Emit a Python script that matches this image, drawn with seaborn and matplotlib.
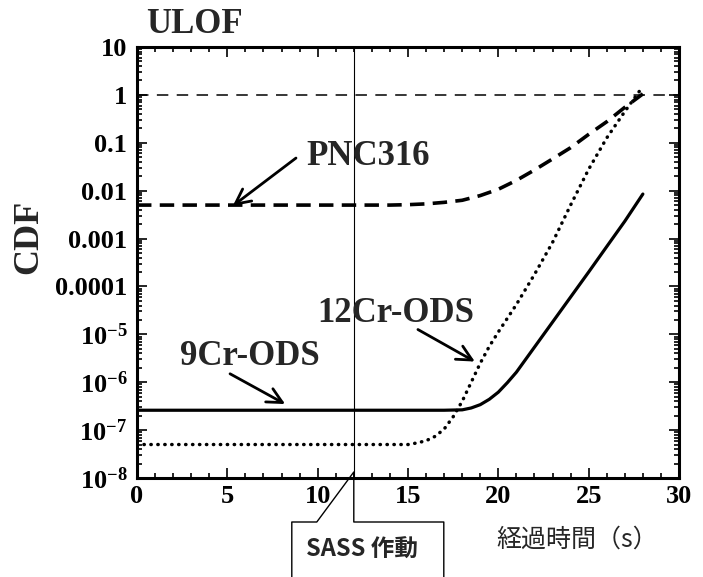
import matplotlib
matplotlib.use("Agg")
import matplotlib.pyplot as plt
import matplotlib.ticker as mticker
from matplotlib.lines import Line2D
import seaborn as sns
import pandas as pd

# Values (time in s, cumulative damage fraction)
pnc_time = [0, 5, 10, 14, 15, 16, 17, 18, 19, 20, 21, 22, 23, 24, 25, 26, 27, 28]
pnc_cdf = [5e-3, 5e-3, 5e-3, 5e-3, 5.1e-3, 5.3e-3, 5.7e-3, 6.3e-3, 7.9e-3, 1.07e-2,
           1.64e-2, 2.7e-2, 4.6e-2, 7.9e-2, 0.15, 0.275, 0.55, 1.05]

ods12_time = [0, 5, 10, 14, 15, 15.5, 16, 16.5, 17, 17.5, 18, 18.5, 19, 19.5, 20, 21,
              22, 23, 24, 25, 26, 27, 28]
ods12_cdf = [5e-8, 5e-8, 5e-8, 5e-8, 5e-8, 5.4e-8, 6.0e-8, 7.4e-8, 1.05e-7, 1.9e-7,
             4.0e-7, 1.0e-6, 2.5e-6, 5.6e-6, 1.12e-5, 4.2e-5, 1.78e-4, 8.3e-4,
             5.0e-3, 2.8e-2, 0.126, 0.45, 1.5]

ods9_time = [0, 5, 10, 15, 17, 18, 18.5, 19, 19.5, 20, 20.5, 21, 22, 23, 24, 25, 26, 27, 28]
ods9_cdf = [2.6e-7, 2.6e-7, 2.6e-7, 2.6e-7, 2.6e-7, 2.65e-7, 2.9e-7, 3.4e-7, 4.4e-7,
            6.2e-7, 9.8e-7, 1.62e-6, 5.4e-6, 1.8e-5, 6.0e-5, 2.0e-4, 6.8e-4,
            2.3e-3, 8.5e-3]

limit_cdf = 1.0
sass_time = 12

y_ticks = [1e1, 1, 1e-1, 1e-2, 1e-3, 1e-4, 1e-5, 1e-6, 1e-7, 1e-8]
y_tick_labels = ["10", "1", "0.1", "0.01", "0.001", "0.0001",
                 r"$10^{-5}$", r"$10^{-6}$", r"$10^{-7}$", r"$10^{-8}$"]
x_ticks = [0, 5, 10, 15, 20, 25, 30]

df_pnc = pd.DataFrame({"time": pnc_time, "cdf": pnc_cdf})
df_12 = pd.DataFrame({"time": ods12_time, "cdf": ods12_cdf})
df_9 = pd.DataFrame({"time": ods9_time, "cdf": ods9_cdf})

sns.set_theme(style="ticks")
plt.rcParams["font.family"] = ["Liberation Serif", "DejaVu Serif"]
plt.rcParams["font.weight"] = "bold"
plt.rcParams["mathtext.fontset"] = "custom"
plt.rcParams["mathtext.rm"] = "Liberation Serif:bold"
plt.rcParams["mathtext.it"] = "Liberation Serif:bold"
plt.rcParams["mathtext.bf"] = "Liberation Serif:bold"

W, H = 703, 577
fig = plt.figure(figsize=(W / 100, H / 100), dpi=100)
ax_l, ax_r, ax_t, ax_b = 137, 679, 47, 478
ax = fig.add_axes([ax_l / W, 1 - ax_b / H, (ax_r - ax_l) / W, (ax_b - ax_t) / H])

sns.lineplot(data=df_pnc, x="time", y="cdf", ax=ax, color="black", lw=2.6,
             linestyle=(0, (4, 2.3)), estimator=None)
sns.lineplot(data=df_12, x="time", y="cdf", ax=ax, color="black", lw=2.5,
             linestyle=(0, (0.1, 1.9)), dash_capstyle="round", estimator=None)
sns.lineplot(data=df_9, x="time", y="cdf", ax=ax, color="black", lw=2.3,
             estimator=None)
ax.axhline(limit_cdf, color="black", lw=1.1, linestyle=(0, (7.5, 5.5)))
ax.axvline(sass_time, color="black", lw=0.8)

ax.set_yscale("log")
ax.set_xlim(0, 30)
ax.set_ylim(1e-8, 10)

ax.set_xticks(x_ticks)
ax.set_xticklabels([str(t) for t in x_ticks])
ax.xaxis.set_minor_locator(mticker.MultipleLocator(1))
ax.set_yticks(y_ticks)
ax.set_yticklabels(y_tick_labels)
ax.yaxis.set_minor_locator(mticker.LogLocator(base=10, subs=range(2, 10), numticks=30))
ax.yaxis.set_minor_formatter(mticker.NullFormatter())

ax.tick_params(which="both", direction="in", top=True, right=True, width=1.2,
               labelsize=19, colors="black")
ax.tick_params(which="major", length=7)
ax.tick_params(which="minor", length=3.5)
ax.tick_params(axis="y", pad=7)
ax.tick_params(axis="x", pad=5)
for lab in ax.get_xticklabels() + ax.get_yticklabels():
    lab.set_fontweight("bold")
for sp in ax.spines.values():
    sp.set_linewidth(2.2)
    sp.set_color("black")
    sp.set_visible(True)

ax.set_xlabel("経過時間（s）", fontsize=18, fontweight="normal",
              family=["Noto Sans CJK JP", "DejaVu Sans"])
ax.xaxis.set_label_coords((577 - ax_l) / (ax_r - ax_l), (ax_b - 540) / (ax_b - ax_t))
ax.xaxis.label.set_va("center")
ax.set_ylabel("CDF", fontsize=26, fontweight="bold")
ax.yaxis.set_label_coords((29 - ax_l) / (ax_r - ax_l), (ax_b - 237) / (ax_b - ax_t))
ax.yaxis.label.set_va("center")

fig.text(146 / W, 1 - 33 / H, "ULOF", fontsize=25, fontweight="bold",
         ha="left", va="baseline")

arrow = dict(arrowstyle="->,head_length=0.9,head_width=0.45", lw=2, color="black",
             shrinkA=0, shrinkB=0)
ax.annotate("", xy=(5.3, 4.8e-3), xytext=(8.8, 4.8e-2), arrowprops=arrow)
ax.text(9.4, 5.1e-2, "PNC316", fontsize=25, fontweight="bold", va="center", ha="left")
ax.annotate("", xy=(8.2, 3.5e-7), xytext=(5.15, 1.5e-6), arrowprops=arrow)
ax.text(2.4, 3.4e-6, "9Cr-ODS", fontsize=25, fontweight="bold", va="center", ha="left")
ax.annotate("", xy=(18.7, 2.7e-6), xytext=(15.55, 1.26e-5), arrowprops=arrow)
ax.text(10.0, 2.7e-5, "12Cr-ODS", fontsize=25, fontweight="bold", va="center", ha="left")

# SASS callout below the axis, pointing at the SASS activation time
tip_x, tip_y = ax.transData.transform((sass_time, 1e-8))
tip_y += 6
box_top = tip_y - 50
pts_x = [tip_x - 62, tip_x - 62, tip_x - 37, tip_x, tip_x, tip_x + 90, tip_x + 90]
pts_y = [-10, box_top, box_top, tip_y, box_top, box_top, -10]
fig.add_artist(Line2D([p / W for p in pts_x], [p / H for p in pts_y], lw=1.0,
                      color="black", transform=fig.transFigure, clip_on=False))
fig.text((tip_x + 8) / W, (box_top - 28) / H, "SASS 作動", fontsize=17,
         fontweight="bold", ha="center", va="center",
         family=["Noto Sans CJK JP", "DejaVu Sans"])

fig.savefig("out.png", dpi=100)
